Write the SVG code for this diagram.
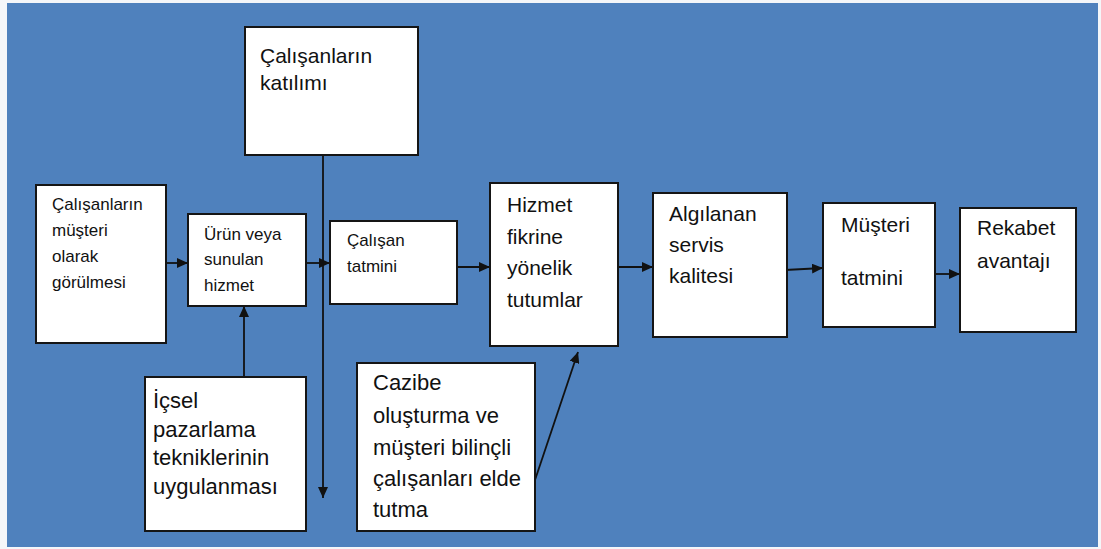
<svg xmlns="http://www.w3.org/2000/svg" width="1101" height="549" viewBox="0 0 1101 549">
<defs>
<style>
.box{fill:#fff;stroke:#151515;stroke-width:2}
.t{font-family:"Liberation Sans",Arial,sans-serif;fill:#111}
.s17{font-size:17px}
.s21{font-size:21px}
.s22{font-size:22px}
.c{fill:none;stroke:#111;stroke-width:1.8}
</style>
<marker id="ah" markerUnits="userSpaceOnUse" markerWidth="12" markerHeight="10" refX="11" refY="5" orient="auto">
<path d="M0,0 L11,5 L0,10 z" fill="#111"/>
</marker>
</defs>
<rect x="0" y="0" width="1101" height="549" fill="#f4f6f9"/>
<rect x="7" y="3" width="1091" height="544" fill="#4f81bd"/>

<g id="connectors">
<line class="c" x1="166" y1="263" x2="188" y2="263" marker-end="url(#ah)"/>
<line class="c" x1="306" y1="263" x2="330" y2="263" marker-end="url(#ah)"/>
<line class="c" x1="323" y1="155" x2="323" y2="498" marker-end="url(#ah)"/>
<line class="c" x1="244" y1="377" x2="244" y2="306" marker-end="url(#ah)"/>
<line class="c" x1="457" y1="267" x2="490" y2="267" marker-end="url(#ah)"/>
<line class="c" x1="618" y1="267" x2="653" y2="267" marker-end="url(#ah)"/>
<line class="c" x1="785" y1="270" x2="823" y2="268" marker-end="url(#ah)"/>
<line class="c" x1="935" y1="274" x2="960" y2="274" marker-end="url(#ah)"/>
<line class="c" x1="535" y1="480" x2="578" y2="352" marker-end="url(#ah)"/>
</g>

<g id="katilim">
<rect class="box" x="245" y="27" width="173" height="128"/>
<text class="t s21" x="260" y="63">Çalışanların</text>
<text class="t s21" x="260" y="90">katılımı</text>
</g>

<g id="musteri-olarak">
<rect class="box" x="36" y="185" width="130" height="158"/>
<text class="t s17" x="52" y="210">Çalışanların</text>
<text class="t s17" x="52" y="236">müşteri</text>
<text class="t s17" x="52" y="262">olarak</text>
<text class="t s17" x="52" y="288">görülmesi</text>
</g>

<g id="urun">
<rect class="box" x="188" y="214" width="118" height="92"/>
<text class="t s17" x="204" y="240">Ürün veya</text>
<text class="t s17" x="204" y="265">sunulan</text>
<text class="t s17" x="204" y="291">hizmet</text>
</g>

<g id="calisan-tatmini">
<rect class="box" x="330" y="221" width="127" height="83"/>
<text class="t s17" x="347" y="246">Çalışan</text>
<text class="t s17" x="347" y="272">tatmini</text>
</g>

<g id="hizmet">
<rect class="box" x="490" y="183" width="128" height="163"/>
<text class="t s21" x="507" y="212">Hizmet</text>
<text class="t s21" x="507" y="244">fikrine</text>
<text class="t s21" x="507" y="275">yönelik</text>
<text class="t s21" x="507" y="307">tutumlar</text>
</g>

<g id="algilanan">
<rect class="box" x="653" y="193" width="134" height="144"/>
<text class="t s21" x="669" y="221">Algılanan</text>
<text class="t s21" x="669" y="252">servis</text>
<text class="t s21" x="669" y="283">kalitesi</text>
</g>

<g id="musteri-tatmini">
<rect class="box" x="823" y="203" width="112" height="124"/>
<text class="t s21" x="841" y="232">Müşteri</text>
<text class="t s21" x="841" y="285">tatmini</text>
</g>

<g id="rekabet">
<rect class="box" x="960" y="208" width="116" height="124"/>
<text class="t s21" x="977" y="235">Rekabet</text>
<text class="t s21" x="977" y="268">avantajı</text>
</g>

<g id="icsel">
<rect class="box" x="145" y="377" width="161" height="154"/>
<text class="t s22" x="153" y="408">İçsel</text>
<text class="t s22" x="153" y="437">pazarlama</text>
<text class="t s22" x="153" y="465">tekniklerinin</text>
<text class="t s22" x="153" y="494">uygulanması</text>
</g>

<g id="cazibe">
<rect class="box" x="357" y="363" width="178" height="168"/>
<text class="t s22" x="373" y="390">Cazibe</text>
<text class="t s22" x="373" y="423">oluşturma ve</text>
<text class="t s22" x="373" y="455">müşteri bilinçli</text>
<text class="t s22" x="373" y="486">çalışanları elde</text>
<text class="t s22" x="373" y="517">tutma</text>
</g>
</svg>
